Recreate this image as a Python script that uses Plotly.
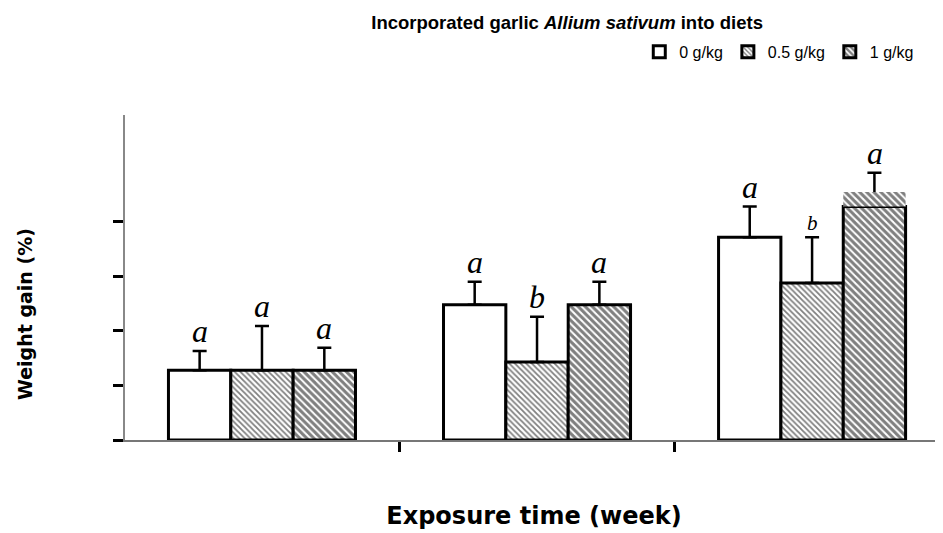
import plotly.graph_objects as go

# ---- data ----
weeks = ["Week 1", "Week 2", "Week 3"]
series_names = ["0 g/kg", "0.5 g/kg", "1 g/kg"]
means_0 = [1.28, 2.48, 3.72]
means_05 = [1.28, 1.43, 2.88]
means_1 = [1.28, 2.48, 4.28]
err_0 = [0.35, 0.42, 0.56]
err_05 = [0.81, 0.83, 0.84]
err_1 = [0.41, 0.42, 0.62]
extra_1 = [0, 0, 0.27]
letters_0 = ["a", "a", "a"]
letters_05 = ["a", "b", "b"]
letters_1 = ["a", "a", "a"]
letter_sizes_05 = [32, 32, 21]
y_tick_vals = [0, 1, 2, 3, 4]

xpos = list(range(len(weeks)))

fig = go.Figure()

styles = [
    dict(pattern=dict(shape=""), color="white"),
    dict(pattern=dict(shape="\\", fgcolor="black", bgcolor="white", size=4, solidity=0.45), color="white"),
    dict(pattern=dict(shape="\\", fgcolor="black", bgcolor="white", size=5, solidity=0.6), color="white"),
]
all_means = [means_0, means_05, means_1]
all_errs = [err_0, err_05, err_1]
groups = ["g0", "g1", "g2"]

for name, m, e, st, g in zip(series_names, all_means, all_errs, styles, groups):
    fig.add_trace(go.Bar(
        x=xpos, y=m, name=name, offsetgroup=g,
        marker=dict(color=st["color"], pattern=st["pattern"],
                    line=dict(color="black", width=3)),
        error_y=dict(type="data", array=e, arrayminus=[0] * len(e), symmetric=False,
                     color="black", thickness=2.5, width=7),
    ))

# hatched strip above the 1 g/kg bar (no outline)
fig.add_trace(go.Bar(
    x=xpos, y=extra_1, base=means_1, offsetgroup="g2", showlegend=False,
    marker=dict(color="white", pattern=styles[2]["pattern"], line=dict(width=0)),
    hoverinfo="skip",
))

bar_w = 0.227
offsets = [-bar_w, 0, bar_w]
letter_sets = [letters_0, letters_05, letters_1]
for k, (letters, m, e, off) in enumerate(zip(letter_sets, all_means, all_errs, offsets)):
    for i in xpos:
        size = letter_sizes_05[i] if k == 1 else 32
        fig.add_annotation(
            x=i + off, y=m[i] + e[i], text=letters[i], showarrow=False,
            xanchor="center", yanchor="bottom", yshift=0,
            font=dict(family="Liberation Serif", size=size, color="black", style="italic"),
        )

# y-axis title
fig.add_annotation(
    xref="paper", yref="paper", x=-0.122, y=0.388, text="Weight gain (%)",
    textangle=-90, showarrow=False, xanchor="center", yanchor="middle",
    font=dict(family="DejaVu Sans", size=19, color="black", weight="bold"),
)

fig.update_layout(
    width=935, height=525,
    margin=dict(l=117, r=0, t=107, b=93, autoexpand=False),
    paper_bgcolor="white", plot_bgcolor="white",
    barmode="group", bargap=0.32, bargroupgap=0,
    title=dict(text="Incorporated garlic <i>Allium sativum</i> into diets",
               x=0.598, xanchor="center", y=0.985, yanchor="top", pad=dict(t=0, b=0),
               font=dict(family="Liberation Sans", size=18.5, color="black", weight="bold")),
    legend=dict(orientation="h", x=0.971, xanchor="right", y=1.194, yanchor="middle",
                font=dict(family="Liberation Sans", size=16, color="black"),
                bgcolor="rgba(0,0,0,0)", itemwidth=30, tracegroupgap=0),
    showlegend=True,
    font=dict(family="Liberation Sans", color="black"),
)

fig.update_xaxes(
    range=[-0.498, 2.476], tickvals=[0.5, 1.5], showticklabels=False, automargin=False,
    ticks="outside", ticklen=10, tickwidth=3, tickcolor="black",
    showline=True, linecolor="#777777", linewidth=1.5, showgrid=False, zeroline=False,
    title=dict(text="Exposure time (week)", standoff=56,
               font=dict(family="DejaVu Sans", size=24, color="black", weight="bold")),
)
fig.update_yaxes(
    range=[0, 5.96], tickvals=y_tick_vals, showticklabels=False, automargin=False,
    ticks="outside", ticklen=10, tickwidth=3, tickcolor="black",
    showline=True, linecolor="#888888", linewidth=2, showgrid=False, zeroline=False,
)

fig.write_html("out.html")
